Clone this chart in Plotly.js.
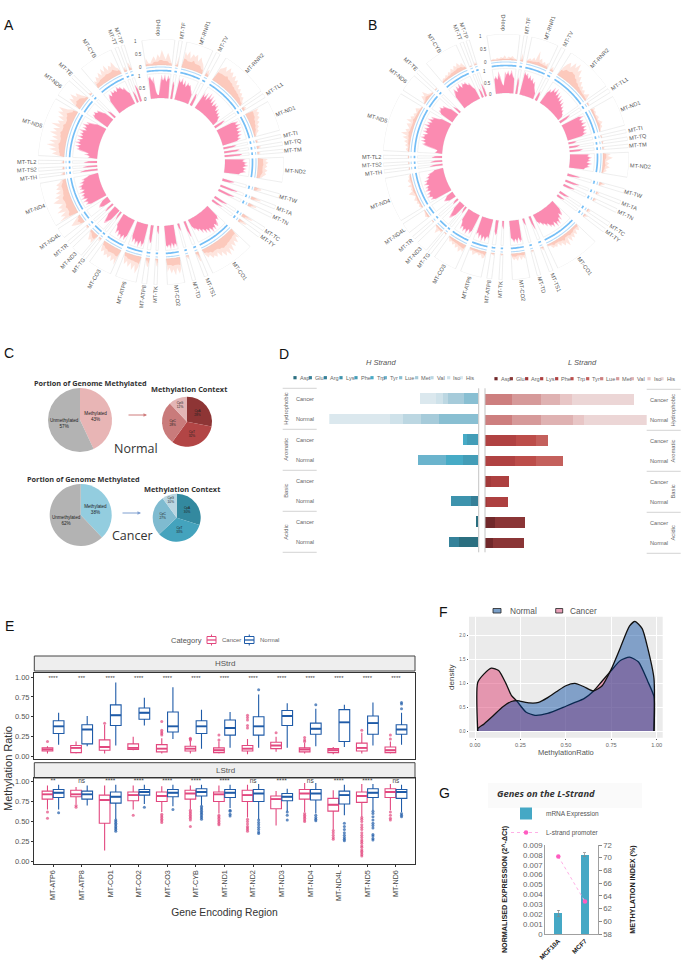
<!DOCTYPE html>
<html><head><meta charset="utf-8">
<script src="https://cdn.plot.ly/plotly-3.0.1.min.js"></script>
<style>html,body{margin:0;padding:0;background:#fff}</style></head>
<body><div id="chart" style="width:685px;height:971px"></div>
<script>
const geneNames=['D-loop','MT-TF','MT-RNR1','MT-TV','MT-RNR2','MT-TL1','MT-ND1','MT-TI','MT-TQ','MT-TM','MT-ND2','MT-TW','MT-TA','MT-TN','MT-TC','MT-TY','MT-CO1','MT-TS1','MT-TD','MT-CO2','MT-TK','MT-ATP8','MT-ATP6','MT-CO3','MT-TG','MT-ND3','MT-TR','MT-ND4L','MT-ND4','MT-TH','MT-TS2','MT-TL2','MT-ND5','MT-ND6','MT-TE','MT-CYB','MT-TT','MT-TP'];
const geneStart=[-9,8.4,12.2,26.8,32,56.2,60.5,77,80.6,84,87.8,105,110.8,115,122.2,125.8,133.5,157.5,163.6,168.8,181.8,186.7,191.7,204.3,217.8,220.5,228,232,238.8,262.5,265.7,269.2,273,303,313.3,319.6,338,341];
const geneEnd=[6.5,10,25,28.8,54.7,58.2,75,78.6,82.2,85.6,99.5,107,112.5,116.8,124,127.6,155,159.3,165.2,177,183.3,189,201.7,215.6,219.4,226,229.6,237,260,264,267.2,270.8,301,311.5,314.9,336,339.6,342.6];
const A_outer=[[30,12,8,22,35,18,42,28,58,38,22,48,30,12],[5,15,38],[62,48,68,40,60,52,64,38,58,44,36,22],[18,28,12],[52,60,72,55,78,62,70,52,66,48,58,40,50,34,42,30,36,24,30,18,14],[12,16,10],[55,42,50,38,44,30,36,24,28,18,22,12,8],[6,10,8],[12,16,10],[8,12,6],[38,28,40,30,36,26,38,28,34,24,18],[25,28,15],[35,40,20],[30,35,18],[45,40,20],[35,30,12],[45,32,55,38,60,42,70,48,76,52,68,44,60,36,52,40,48,30,38,22],[40,35,12],[15,12,5],[45,62,38,66,42,58,35,50],[30,25,8],[35,30,14],[40,68,35,58,30,50,28,44,20],[62,40,55,34,50,38,48,30,42,22],[10,14,6],[40,28,36,22,12],[8,10,5],[22,38,50,30,15],[78,50,66,40,72,46,60,38,55,70,42,58,32,50,28,44,30,40,25,18],[15,12,8],[10,8,6],[8,10,5],[25,48,30,60,35,72,40,65,32,58,38,70,44,62,36,75,42,55,32,60,40,68,50,72,38,25],[30,55,40,62,35,48,25,12],[12,8,4],[30,22,40,28,48,30,55,36,60,32,50,40,58,30,22],[15,20,8],[30,25,10]];
const A_inner=[[85,92,70,88,30,14,12,60,96,72,98,66,94,80],[72,68,55],[90,72,95,65,88,60,82,70,75,60,52,40],[50,55,35],[78,55,82,48,90,60,85,52,78,46,70,55,68,42,60,38,52,34,44,30,22],[45,50,30],[70,95,78,100,74,96,72,92,70,88,66,80,60],[50,55,40],[60,65,50],[70,72,60],[85,70,92,78,96,72,90,76,88,68,60],[50,45,30],[75,70,50],[70,66,45],[60,55,35],[50,45,25],[55,72,60,82,90,70,96,78,100,72,92,68,86,60,78,52,62,44,50,30],[70,62,40],[32,28,15],[92,74,96,70,98,76,90,80],[35,30,20],[70,75,55],[78,96,70,100,74,94,68,88,60],[70,94,72,98,76,92,66,86,60,50],[40,35,20],[50,72,80,62,40],[40,42,25],[35,52,48,40,25],[70,92,76,98,72,100,80,94,74,98,70,90,78,92,66,84,60,72,50,38],[72,68,50],[60,55,40],[55,50,35],[40,30,55,35,70,88,76,96,72,100,78,94,70,98,74,92,76,100,68,90,72,96,70,84,58,40],[62,78,70,82,66,74,58,40],[40,35,25],[60,78,88,72,96,80,92,76,98,84,90,72,80,60,48],[50,45,30],[70,68,50]];
const B_outer=[[5,8,4,10,6,12,8,18,6,14,10,16,8,5],[8,30,12],[10,18,12,25,15,55,20,30,14,22,12,25],[12,18,8],[35,55,68,50,78,60,85,55,70,42,50,30,38,22,28,16,24,12,18,28,10],[6,8,4],[18,10,14,8,12,16,8,14,22,12,16,8,5],[3,6,4],[8,5,3],[6,8,4],[30,18,38,22,12,25,16,28,12,18,8],[22,18,8],[8,15,6],[12,10,5],[10,14,6],[18,12,6],[15,25,12,30,18,35,22,40,16,48,28,38,20,30,14,25,18,22,10,8],[15,10,4],[5,8,3],[25,15,28,12,30,18,25,15],[5,8,3],[10,6,4],[22,28,14,20,12,16,25,10,14],[30,22,36,18,28,14,22,12,18,8],[6,4,3],[12,8,28,10,6],[5,4,2],[8,14,10,6,4],[8,12,6,14,8,18,10,6,16,28,10,14,8,22,6,12,16,8,10,5],[6,4,3],[5,3,4],[4,6,3],[8,14,6,18,10,24,12,32,16,42,20,28,14,22,30,12,36,18,26,12,20,10,16,22,8,5],[6,12,28,18,35,14,8,5],[4,6,3],[8,14,10,18,12,22,16,28,18,32,22,36,20,28,12],[3,5,2],[6,12,5]];
const B_inner=[[60,72,56,90,68,40,30,88,76,92,70,96,74,60],[60,70,45],[98,82,92,70,88,66,80,58,68,45,36,25],[35,42,25],[50,72,58,88,66,92,60,84,56,78,50,72,46,64,40,52,34,42,28,30,20],[48,50,30],[78,98,72,90,76,96,70,92,74,88,68,84,60],[30,35,22],[45,40,30],[55,50,40],[82,70,90,74,86,68,92,72,84,66,60],[55,45,25],[60,55,35],[50,45,25],[45,40,25],[35,30,18],[42,60,70,52,82,64,92,72,96,66,88,72,80,58,70,50,58,40,46,30],[60,50,30],[30,26,15],[82,92,70,96,74,90,78,70],[35,30,20],[55,62,45],[84,70,96,74,100,70,92,66,80],[72,88,68,96,74,92,70,88,60,50],[32,28,15],[52,72,78,56,35],[28,25,15],[30,42,50,38,28],[72,92,78,100,84,96,74,98,80,92,72,94,76,88,64,78,60,66,48,36],[55,50,35],[50,45,30],[42,40,28],[32,24,20,45,72,86,70,94,74,98,80,92,70,96,78,94,72,100,76,92,70,96,72,86,60,42],[55,72,66,78,62,70,52,36],[38,30,20],[58,76,90,68,94,78,98,72,92,82,88,70,78,58,44],[40,35,22],[55,50,30]];

const pieNormalLabels=['Methylated 43%','Unmethylated 57%'], pieNormal=[43,57];
const pieCancerLabels=['Methylated 38%','Unmethylated 62%'], pieCancer=[38,62];
const ctxNormalLabels=['CpA<br>28%','CpT<br>32%','CpC<br>28%','CpG<br>12%'], ctxNormal=[28,32,28,12];
const ctxCancerLabels=['CpA<br>30%','CpT<br>33%','CpC<br>27%','CpG<br>10%'], ctxCancer=[30,33,27,10];

const aminoAcids=['Asp','Glu','Arg','Lys','Phe','Trp','Tyr','Lue','Met','Val','Iso','His'];
const rowLabels=['Cancer','Normal','Cancer','Normal','Cancer','Normal','Cancer','Normal'];
const H_Asp=[0,0,0,0,0,0,6,57],H_Glu=[0,0,0,0,0,0,0,32],H_Arg=[0,0,0,0,0,21,0,0],H_Lys=[0,0,0,0,0,62,0,0],H_Phe=[0,0,33,47,0,0,0,0],H_Trp=[0,0,12,50,0,0,0,0],H_Tyr=[0,0,0,84,0,0,0,0],H_Lue=[43,119,0,0,0,0,0,0],H_Met=[49,54,0,0,0,0,0,0],H_Val=[13,52,0,0,0,0,0,0],H_Iso=[23,40,0,0,0,0,0,0],H_His=[47,182,0,0,0,0,0,0];
const L_Asp=[0,0,0,0,0,0,31,24],L_Glu=[0,0,0,0,0,0,90,93],L_Arg=[0,0,0,0,17,5,0,0],L_Lys=[0,0,0,0,56,65,0,0],L_Phe=[0,0,93,90,0,0,0,0],L_Trp=[0,0,60,63,0,0,0,0],L_Tyr=[0,0,35,82,0,0,0,0],L_Lue=[82,82,0,0,0,0,0,0],L_Met=[85,86,0,0,0,0,0,0],L_Val=[58,96,0,0,0,0,0,0],L_Iso=[35,33,0,0,0,0,0,0],L_His=[188,188,0,0,0,0,0,0];
const H_colors=['#2b6f80','#35829a','#357f97','#3d93ad','#439db7','#47abc6','#6bb4cd','#89bfd2','#a6cbda','#bcd7e2','#cfe2ea','#dbe8ee'];
const L_colors=['#71282a','#8a3536','#a23a3a','#ad4040','#b04242','#bc4d4a','#c4605c','#cd7f7f','#d69a9a','#dfb2b2','#e8c6c6','#ecd6d6'];

const boxGenes=['MT-ATP6','MT-ATP8','MT-CO1','MT-CO2','MT-CO3','MT-CYB','MT-ND1','MT-ND2','MT-ND3','MT-ND4','MT-ND4L','MT-ND5','MT-ND6'];
const hC_q1=[.07,.05,.08,.09,.06,.07,.05,.07,.10,.06,.05,.07,.05],hC_med=[.09,.11,.12,.11,.10,.10,.08,.10,.14,.09,.08,.11,.08],hC_q3=[.11,.14,.21,.16,.15,.13,.11,.14,.18,.11,.10,.17,.12],hC_lo=[.04,.04,.04,.08,.04,.04,.04,.03,.06,.04,.03,.04,.04],hC_hi=[.13,.19,.40,.25,.23,.20,.19,.22,.25,.17,.12,.30,.19];
const hC_out=[[.19],[],[.42],[],[.27,.29,.31,.33,.44],[.21,.22,.23],[.21,.27],[.36,.39,.46,.49,.52],[.30],[.19,.21,.24],[],[.33],[.22,.27]];
const hN_q1=[.29,.16,.39,.47,.31,.29,.27,.27,.39,.28,.19,.28,.28],hN_med=[.38,.34,.52,.55,.38,.38,.36,.38,.51,.35,.43,.42,.34],hN_q3=[.45,.40,.65,.61,.56,.45,.46,.50,.58,.42,.59,.51,.40],hN_lo=[.15,.13,.14,.39,.22,.10,.11,.11,.11,.13,.12,.14,.15],hN_hi=[.55,.51,.93,.74,.87,.59,.56,.78,.67,.60,.65,.68,.55];
const hN_out=[[.38],[],[],[],[],[],[],[.84],[],[.65],[],[],[.60,.66,.68]];
const lC_q1=[.78,.81,.48,.76,.75,.78,.75,.75,.66,.78,.63,.74,.80],lC_med=[.84,.84,.77,.83,.82,.85,.84,.83,.78,.85,.71,.82,.87],lC_q3=[.88,.89,.83,.87,.87,.89,.87,.89,.82,.90,.79,.87,.91],lC_lo=[.65,.72,.14,.65,.62,.65,.60,.55,.45,.62,.40,.56,.64],lC_hi=[.95,.93,.95,.95,.94,.95,.95,.96,.88,.98,.89,.97,.97];
const lC_out=[[.62,.54],[.68,.70],[],[.58],[.49,.51,.53,.55,.57,.59],[.44,.52,.54,.56,.58,.60,.62,.64],[.46,.48,.50,.52,.54,.56,.58],[.38,.40,.42,.44,.47,.50,.53],[],[.50,.52,.54,.56,.58,.60],[.28,.30,.33,.36,.39],[.07,.09,.11,.13,.15,.18,.20,.23,.25,.27,.30,.33,.36,.40,.43,.46,.50,.53,.55],[.52,.54,.58,.62]];
const lN_q1=[.80,.78,.73,.83,.81,.82,.80,.75,.76,.77,.72,.80,.79],lN_med=[.86,.84,.81,.87,.86,.87,.86,.85,.81,.85,.83,.86,.87],lN_q3=[.90,.88,.87,.90,.90,.91,.90,.90,.85,.90,.88,.91,.90],lN_lo=[.65,.70,.53,.72,.69,.70,.67,.53,.63,.60,.58,.64,.62],lN_hi=[.96,.95,.96,.96,.96,.96,.96,.97,.91,.98,.96,.97,.96];
const lN_out=[[.61],[],[.38,.40,.42,.44,.46,.48,.50,.52],[.68],[.65],[.53,.55,.57,.59,.61,.63,.65,.67,.69],[.57,.59,.63,.64],[.35,.37,.40,.43,.46,.49,.52],[.52,.58,.62],[.51,.53,.55,.58],[.26,.28,.30,.33,.36,.40,.44,.48],[.27,.29,.32,.34,.42,.45,.48,.52,.56,.60,.63],[.56,.58,.60]];
const sigH=['****','***','****','****','****','****','****','****','****','****','****','****','****'];
const sigL=['**','ns','****','****','****','****','****','ns','****','ns','****','****','ns'];

const densX_normal=[.015,.015,.05,.1,.15,.2,.23,.3,.35,.4,.45,.5,.55,.6,.65,.7,.75,.8,.85,.88,.92,.95,.985,.985];
const densY_normal=[0,.05,.15,.32,.5,.62,.64,.59,.6,.7,.83,.95,1,.93,.84,.95,1.3,1.75,2.2,2.3,2.15,1.75,1.1,0];
const densX_cancer=[.015,.015,.05,.09,.13,.17,.2,.23,.28,.33,.4,.5,.55,.6,.65,.7,.75,.8,.85,.9,.95,.985,.985];
const densY_cancer=[0,1.02,1.2,1.32,1.27,1,.75,.63,.4,.33,.37,.52,.6,.68,.83,1.05,1.27,1.48,1.55,1.45,1.05,.72,0];

const cellLines=['MCF10A','MCF7'],mrna=[.0021,.008],mrnaErr=[.0003,.0002],promoter=[70.2,63.1];

/* ---------- helpers ---------- */
const W=685,H=971;
const X=p=>p/W, Y=p=>1-p/H;
const FONT='"Liberation Sans",Arial,sans-serif';
const traces=[],annotations=[],shapes=[];
const note=(x,y,text,size,color,o={})=>annotations.push(Object.assign({xref:'paper',yref:'paper',x:X(x),y:Y(y),text,showarrow:false,font:{size,color:color||'#333',family:o.family||FONT},xanchor:'center',yanchor:'middle'},o.extra||{}));
const line=(x0,y0,x1,y1,color,width)=>shapes.push({type:'line',xref:'paper',yref:'paper',x0:X(x0),y0:Y(y0),x1:X(x1),y1:Y(y1),line:{color,width:width||1}});
const rect=(x0,y0,x1,y1,fill,color,width)=>shapes.push({type:'rect',xref:'paper',yref:'paper',x0:X(x0),y0:Y(y0),x1:X(x1),y1:Y(y1),fillcolor:fill,line:{color:color||fill,width:width||0},layer:'below'});

/* ---------- A / B circular panels ---------- */
const mid=geneStart.map((s,i)=>(s+geneEnd[i])/2), span=geneStart.map((s,i)=>geneEnd[i]-s);
const TRACK={outer:[97,26],inner:[64,24.5]};
function ringArea(vals,base,h,sub,color,body){
  const th=[],r=[];
  vals.forEach((v,g)=>{
    const n=v.length, t=v.map((_,i)=>geneStart[g]+span[g]*(i+.5)/n);
    const val=body?v.map((x,i)=>body(x,Math.min(x,v[i-1]===undefined?x:v[i-1],v[i+1]===undefined?x:v[i+1]))):v;
    th.push(geneStart[g]); r.push(base);
    t.forEach((a,i)=>{th.push(a); r.push(base+h*val[i]/100);});
    th.push(geneEnd[g]); r.push(base);
    for(let i=n-1;i>=0;i--){th.push(t[i]); r.push(base);}
    th.push(geneStart[g]); r.push(base);
    th.push(null); r.push(null);
  });
  traces.push({type:'scatterpolar',subplot:sub,theta:th,r,mode:'lines',line:{width:0,color},fill:'toself',fillcolor:color,showlegend:false,hoverinfo:'skip',connectgaps:false});
}
function arcPts(a,b){const n=Math.max(2,Math.ceil(b-a)+1),o=[];for(let i=0;i<n;i++)o.push(a+(b-a)*i/(n-1));return o;}
function outlines(sub,base,h,color,w){
  const th=[],r=[];
  geneNames.forEach((_,g)=>{
    const a=arcPts(geneStart[g],geneEnd[g]);
    a.forEach(t=>{th.push(t);r.push(base+h);});
    a.slice().reverse().forEach(t=>{th.push(t);r.push(base);});
    th.push(a[0]);r.push(base+h);
    th.push(null);r.push(null);
  });
  traces.push({type:'scatterpolar',subplot:sub,theta:th,r,mode:'lines',line:{color,width:w},showlegend:false,hoverinfo:'skip',connectgaps:false});
}
function arcs(sub,rad,color,w){
  const th=[],r=[];
  geneNames.forEach((_,g)=>{
    arcPts(geneStart[g],geneEnd[g]).forEach(t=>{th.push(t);r.push(rad);});
    th.push(null);r.push(null);
  });
  traces.push({type:'scatterpolar',subplot:sub,theta:th,r,mode:'lines',line:{color,width:w},showlegend:false,hoverinfo:'skip',connectgaps:false});
}
function circular(sub,outer,inner,cx,cy){
  outlines(sub,TRACK.outer[0],TRACK.outer[1],'#e6e6e6',.7);
  outlines(sub,TRACK.inner[0],TRACK.inner[1],'#ebebeb',.7);
  ringArea(outer,TRACK.outer[0],TRACK.outer[1],sub,'rgba(250,150,125,.25)',null);
  ringArea(outer,TRACK.outer[0],TRACK.outer[1],sub,'rgba(250,150,125,.35)',(v,m)=>m*.7);
  ringArea(inner,TRACK.inner[0],TRACK.inner[1],sub,'rgba(252,135,175,.55)',null);
  ringArea(inner,TRACK.inner[0],TRACK.inner[1],sub,'rgba(250,105,155,.6)',(v,m)=>(v+m)/2);
  arcs(sub,95,'#b5dcfa',1.1);
  arcs(sub,91.5,'#74bef6',1.7);
  geneNames.forEach((g,i)=>{
    const t=mid[i], rad=t*Math.PI/180;
    const rr=125+g.length*1.6;
    const norm=(t+360)%360;
    const ang=norm<180?norm-90:norm-270;
    note(cx+rr*Math.sin(rad),cy-rr*Math.cos(rad),g,5.6,'#555',{extra:{textangle:ang}});
  });
  [[123,'1'],[110,'0.5'],[97,'0']].forEach(([r,t])=>{const a=-12*Math.PI/180;note(cx+r*Math.sin(a),cy-r*Math.cos(a),t,4.5,'#555');});
  [[88,'1'],[76,'0.5'],[64,'0']].forEach(([r,t])=>{const a=-14*Math.PI/180;note(cx+r*Math.sin(a),cy-r*Math.cos(a),t,4.5,'#555');});
}
circular('polar',A_outer,A_inner,161,162);
circular('polar2',B_outer,B_inner,506,157);
const polarCfg=(cx,cy,R)=>({domain:{x:[X(cx-R),X(cx+R)],y:[Y(cy+R),Y(cy-R)]},bgcolor:'rgba(0,0,0,0)',
  radialaxis:{visible:false,range:[0,123],showgrid:false},angularaxis:{visible:false,rotation:90,direction:'clockwise',showgrid:false,thetaunit:'degrees'}});

/* ---------- C pies ---------- */
function pie(values,text,colors,cx,cy,R,size){
  traces.push({type:'pie',values,text,textinfo:'text',textposition:'inside',insidetextorientation:'horizontal',sort:false,direction:'clockwise',rotation:0,marker:{colors,line:{width:0}},domain:{x:[X(cx-R),X(cx+R)],y:[Y(cy+R),Y(cy-R)]},textfont:{size,color:'#222',family:FONT},showlegend:false,hoverinfo:'skip'});
}
pie(pieNormal,pieNormalLabels.map(s=>s.replace(' ','<br>')),['#e8b5b5','#b3b3b3'],80,420,32,4.6);
pie(ctxNormal,ctxNormalLabels,['#8e3535','#b24545','#c97b7b','#e3b5b5'],187,421.7,25,3.2);
pie(pieCancer,pieCancerLabels.map(s=>s.replace(' ','<br>')),['#93cddf','#b3b3b3'],80.7,515,31,4.6);
pie(ctxCancer,ctxCancerLabels,['#33899f','#44a3bd','#7fbbd0','#b9d6e2'],176.7,517.7,24,3.2);
const bold={family:'"Open Sans",'+FONT};
note(90,382.5,'<b>Portion of Genome Methylated</b>',7.3,'#333',bold);
note(189,389,'<b>Methylation Context</b>',7.4,'#333',bold);
note(83,478.5,'<b>Portion of Genome Methylated</b>',7.3,'#333',bold);
note(182,489,'<b>Methylation Context</b>',7.4,'#333',bold);
note(136,448,'Normal',12.5,'#333',bold);
note(132,535,'Cancer',12.5,'#333',bold);
const arrow=(x0,x1,y,c)=>annotations.push({xref:'paper',yref:'paper',axref:'paper',ayref:'paper',x:X(x1),y:Y(y),ax:X(x0),ay:Y(y),text:'',showarrow:true,arrowhead:2,arrowsize:.7,arrowwidth:1,arrowcolor:c});
arrow(127,147,415,'#cf7d7d');
arrow(121,141,513,'#7f9fd0');

/* ---------- D bars ---------- */
const Hs=[H_Asp,H_Glu,H_Arg,H_Lys,H_Phe,H_Trp,H_Tyr,H_Lue,H_Met,H_Val,H_Iso,H_His];
const Ls=[L_Asp,L_Glu,L_Arg,L_Lys,L_Phe,L_Trp,L_Tyr,L_Lue,L_Met,L_Val,L_Iso,L_His];
const rowIdx=rowLabels.map((_,i)=>i);
aminoAcids.forEach((a,i)=>{
  traces.push({type:'bar',orientation:'h',x:Hs[i],y:rowIdx,width:.5,xaxis:'x',yaxis:'y',name:'H '+a,marker:{color:H_colors[i]},showlegend:false,hoverinfo:'skip'});
  traces.push({type:'bar',orientation:'h',x:Ls[i],y:rowIdx,width:.5,xaxis:'x2',yaxis:'y2',name:'L '+a,marker:{color:L_colors[i]},showlegend:false,hoverinfo:'skip'});
});
const legH=[75,121,166,213,258,306,346,392,440,486,536,574], legL=[678,724,770,815,860,906,953,995,1043,1087,1137,1176];
aminoAcids.forEach((a,i)=>{
  const hx=270+legH[i]/3, lx=270+legL[i]/3;
  rect(hx-1.6,376.1,hx+1.6,379.3,H_colors[i]);
  note(hx+2.6,377.7,a,5.6,'#666',{extra:{xanchor:'left'}});
  rect(lx-1.6,377.1,lx+1.6,380.3,L_colors[i]);
  note(lx+2.6,378.7,a,5.6,'#666',{extra:{xanchor:'left'}});
});
note(381,362,'<i>H Strand</i>',7.5,'#555');
note(582,363,'<i>L Strand</i>',7.5,'#555');
[388.3,429.3,470.3,511.3,552.3].forEach(y=>line(282.7,y,316.7,y,'#c8c8c8',.8));
[389.3,430.3,471.3,512.3,553.3].forEach(y=>line(646.7,y,680.7,y,'#c8c8c8',.8));
line(478.7,388.3,478.7,552.3,'#c4c4c4',1);
line(485,388.3,485,552.3,'#c4c4c4',1);
['Hydrophobic','Aromatic','Basic','Acidic'].forEach((t,i)=>{
  note(286,408.8+41*i,t,5.8,'#666',{extra:{textangle:-90}});
  note(672.7,409.8+41*i,t,5.8,'#666',{extra:{textangle:-90}});
});

/* ---------- E boxes ---------- */
const PINK='#e2487f',BLUE='#1f5ba8';
function box(xa,ya,name,color,q1,med,q3,lo,hi,out){
  traces.push({type:'box',xaxis:xa,yaxis:ya,name,showlegend:false,offsetgroup:name,x:boxGenes,y:out,q1,median:med,q3,lowerfence:lo,upperfence:hi,boxpoints:'outliers',jitter:0,pointpos:0,whiskerwidth:0,fillcolor:'#fff',line:{color,width:1.1},marker:{color,size:3,opacity:.7,line:{width:0}},hoverinfo:'skip'});
  traces.push({type:'box',xaxis:xa,yaxis:ya,name:name+' median',showlegend:false,offsetgroup:name,x:boxGenes,q1:med,median:med,q3:med,lowerfence:med,upperfence:med,boxpoints:false,whiskerwidth:0,fillcolor:'rgba(0,0,0,0)',line:{color,width:1.9},hoverinfo:'skip'});
}
box('x3','y3','Cancer',PINK,hC_q1,hC_med,hC_q3,hC_lo,hC_hi,hC_out);
box('x3','y3','Normal',BLUE,hN_q1,hN_med,hN_q3,hN_lo,hN_hi,hN_out);
box('x4','y4','Cancer',PINK,lC_q1,lC_med,lC_q3,lC_lo,lC_hi,lC_out);
box('x4','y4','Normal',BLUE,lN_q1,lN_med,lN_q3,lN_lo,lN_hi,lN_out);
traces.push({type:'scatter',mode:'text',xaxis:'x3',yaxis:'y3',x:boxGenes,y:sigH.map(()=>.985),text:sigH,textfont:{size:6,color:'#444'},showlegend:false,hoverinfo:'skip'});
traces.push({type:'scatter',mode:'text',xaxis:'x4',yaxis:'y4',x:boxGenes,y:sigL.map(()=>1),text:sigL,textfont:{size:6.5,color:'#444'},showlegend:false,hoverinfo:'skip'});
rect(34.3,656,415,671,'#eeeeee','#444',1);
rect(34.3,762.7,415,778,'#eeeeee','#444',1);
note(225,663.5,'HStrd',8,'#555');
note(225,770.5,'LStrd',8,'#555');
note(8,769,'Methylation Ratio',11,'#333',{extra:{textangle:-90}});
note(187,640,'Category',7.5,'#555');
[[207,216,PINK,'Cancer',220],[244.5,254,BLUE,'Normal',258]].forEach(([a,b,c,t,tx])=>{
  rect(a,636.5,b,643.5,'#fff',c,1);
  line(a,640,b,640,c,1.3);
  line((a+b)/2,634.5,(a+b)/2,636.5,c,1);
  line((a+b)/2,643.5,(a+b)/2,645.5,c,1);
  note(tx,640,t,6,'#666',{extra:{xanchor:'left'}});
});

/* ---------- F density ---------- */
traces.push({type:'scatter',mode:'lines',xaxis:'x5',yaxis:'y5',name:'Cancer',showlegend:false,x:densX_cancer,y:densY_cancer,fill:'tozeroy',fillcolor:'rgba(221,65,115,.5)',line:{color:'#111',width:1.3,shape:'spline',smoothing:.6},hoverinfo:'skip'});
traces.push({type:'scatter',mode:'lines',xaxis:'x5',yaxis:'y5',name:'Normal',showlegend:false,x:densX_normal,y:densY_normal,fill:'tozeroy',fillcolor:'rgba(0,68,157,.45)',line:{color:'#111',width:1.3,shape:'spline',smoothing:.6},hoverinfo:'skip'});
rect(469,616.7,662.7,737.7,'#ebebeb');
rect(493,608.5,501,613,'#7a9fc8','#222',.8);
note(507.7,610.7,'Normal',8.3,'#555',{extra:{xanchor:'left'}});
rect(555.7,608.5,562.7,613,'#e8a0b8','#222',.8);
note(567.7,610.7,'Cancer',8.3,'#555',{extra:{xanchor:'left'}});

/* ---------- G ---------- */
traces.push({type:'bar',xaxis:'x6',yaxis:'y6',name:'mRNA Expression',x:cellLines,y:mrna,width:.3,marker:{color:'#45a8c5'},error_y:{type:'data',array:mrnaErr,visible:true,color:'#888',thickness:.7,width:1.5},hoverinfo:'skip'});
traces.push({type:'scatter',mode:'lines+markers',xaxis:'x6',yaxis:'y7',name:'L-strand promoter',x:cellLines,y:promoter,line:{color:'#ffb0e6',width:1,dash:'dot'},marker:{color:'#ff5cc0',size:4.5},hoverinfo:'skip'});
rect(488,783,642,808,'#fafafa');
note(546,793.7,'<b><i>Genes on the L-Strand</i></b>',9.4,'#333',bold);

/* panel letters */
[['A',9,25],['B',372,25],['C',9,353],['D',284,354],['E',9,626],['F',443,612],['G',444,793]].forEach(([t,x,y])=>note(x,y,t,14,'#111'));

const tickE=[0,.25,.5,.75,1];
const layout={width:W,height:H,margin:{l:0,r:0,t:0,b:0},paper_bgcolor:'#fff',plot_bgcolor:'rgba(0,0,0,0)',autosize:false,
  font:{family:FONT,color:'#444'},barmode:'stack',boxmode:'group',boxgap:.22,boxgroupgap:.04,annotations,shapes,showlegend:true,
  polar:polarCfg(161,162,123),polar2:polarCfg(506,157,123),
  xaxis:{domain:[X(329.3),X(478.3)],range:[447,0],visible:false,anchor:'y',fixedrange:true},
  yaxis:{domain:[Y(552.3),Y(388.3)],range:[7.5,-.5],anchor:'free',position:X(314),showline:false,showgrid:false,zeroline:false,ticks:'',tickvals:rowIdx,ticktext:rowLabels,tickfont:{size:5.6,color:'#666'}},
  xaxis2:{domain:[X(485),X(646.7)],range:[0,485],visible:false,anchor:'y2'},
  yaxis2:{domain:[Y(553.3),Y(389.3)],range:[7.5,-.5],side:'right',anchor:'free',position:X(649),showline:false,showgrid:false,zeroline:false,ticks:'',tickvals:rowIdx,ticktext:rowLabels,tickfont:{size:5.6,color:'#666'}},
  xaxis3:{domain:[X(34),X(415)],anchor:'y3',type:'category',categoryarray:boxGenes,categoryorder:'array',showticklabels:false,ticks:'',showline:true,mirror:true,linecolor:'#333',linewidth:1,showgrid:false},
  yaxis3:{domain:[Y(759),Y(672.7)],anchor:'x3',range:[-.03,1.054],tickvals:tickE,tickformat:'.2f',tickfont:{size:7.5,color:'#555'},ticks:'outside',ticklen:2,tickcolor:'#333',showline:true,mirror:true,linecolor:'#333',linewidth:1,showgrid:false,zeroline:false},
  xaxis4:{domain:[X(34),X(415)],anchor:'y4',type:'category',categoryarray:boxGenes,categoryorder:'array',tickangle:-90,tickfont:{size:7.2,color:'#444'},ticks:'outside',ticklen:2,tickcolor:'#333',showline:true,mirror:true,linecolor:'#333',linewidth:1,showgrid:false,title:{text:'Gene Encoding Region',font:{size:10.3,color:'#333'},standoff:8}},
  yaxis4:{domain:[Y(864.3),Y(778.3)],anchor:'x4',range:[-.033,1.04],tickvals:tickE,tickformat:'.2f',tickfont:{size:7.5,color:'#555'},ticks:'outside',ticklen:2,tickcolor:'#333',showline:true,mirror:true,linecolor:'#333',linewidth:1,showgrid:false,zeroline:false},
  xaxis5:{domain:[X(469),X(662.7)],anchor:'y5',range:[-.033,1.033],tickvals:[0,.25,.5,.75,1],tickformat:'.2f',tickfont:{size:5.6,color:'#666'},ticks:'outside',ticklen:1.5,tickcolor:'#555',gridcolor:'#fff',gridwidth:1,zeroline:false,title:{text:'MethylationRatio',font:{size:7.5,color:'#555'},standoff:2}},
  yaxis5:{domain:[Y(737.7),Y(616.7)],anchor:'x5',range:[-.14,2.4],tickvals:[0,.5,1,1.5,2],tickformat:'.1f',tickfont:{size:4.5,color:'#666'},ticks:'outside',ticklen:1.5,tickcolor:'#555',gridcolor:'#fff',gridwidth:1,zeroline:false,title:{text:'density',font:{size:8,color:'#444'},standoff:3}},
  xaxis6:{domain:[X(545),X(598.3)],anchor:'y6',type:'category',categoryarray:cellLines,categoryorder:'array',tickangle:-45,tickfont:{size:6.5,color:'#222'},tickvals:cellLines,ticktext:cellLines.map(c=>'<b>'+c+'</b>'),showline:true,linecolor:'#888',linewidth:.8,ticks:''},
  yaxis6:{domain:[Y(934),Y(845)],anchor:'x6',range:[0,.009],dtick:.001,tickformat:'.3~f',tickfont:{size:7.8,color:'#666'},showline:true,linecolor:'#888',linewidth:.8,ticks:'',showgrid:false,zeroline:false,title:{text:'<b>NORMALISED EXPRESSION (2^-ΔCt)</b>',font:{size:7.2,color:'#222'},standoff:14}},
  yaxis7:{domain:[Y(934),Y(845)],anchor:'x6',overlaying:'y6',side:'right',range:[58,72],dtick:2,tickfont:{size:7.8,color:'#666'},showline:true,linecolor:'#888',linewidth:.8,ticks:'outside',ticklen:2.5,tickcolor:'#888',showgrid:false,zeroline:false,title:{text:'<b>METHYLATION INDEX (%)</b>',font:{size:7.2,color:'#222'},standoff:18}},
  legend:{orientation:'v',x:X(506),y:Y(823),xanchor:'left',yanchor:'middle',font:{size:6.5,color:'#555'},bgcolor:'rgba(0,0,0,0)',traceorder:'normal',itemwidth:30,tracegroupgap:0}
};
Plotly.newPlot('chart',traces,layout,{displayModeBar:false,staticPlot:true});
</script></body></html>
